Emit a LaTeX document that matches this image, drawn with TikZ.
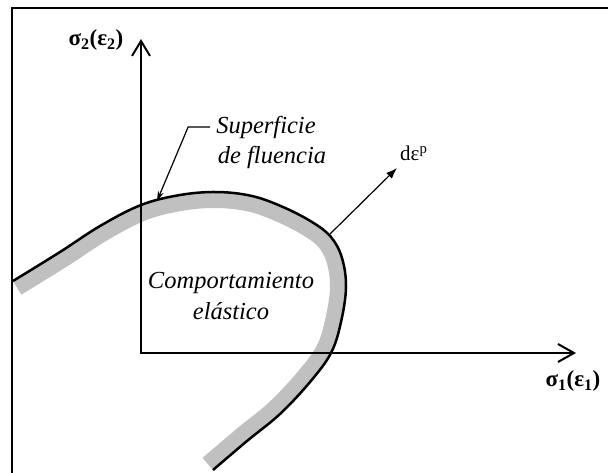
\documentclass[tikz,border=0pt]{standalone}
\usepackage{fontspec}
\setmainfont{Liberation Serif}
\usetikzlibrary{arrows.meta}
\definecolor{bandgray}{RGB}{192,192,192}
\begin{document}
\begin{tikzpicture}[x=1pt,y=-1pt,
  frameline/.style={line width=2.5pt},
  axisline/.style={line width=2pt},
  yieldline/.style={line width=2.5pt},
  band/.style={bandgray,line width=32pt},
  thinarrow/.style={line width=1.2pt},
  itlabel/.style={font=\fontsize{24.5}{28}\selectfont\itshape,inner sep=0pt,align=center},
  axlabel/.style={font=\fontsize{23}{26}\selectfont\bfseries,inner sep=0pt},
  deplabel/.style={font=\fontsize{21}{24}\selectfont,inner sep=0pt}]
\useasboundingbox (0,0) rectangle (608,472);
% frame
\draw[frameline] (12,490) -- (12,8) -- (630,8);
% yield curve path
\def\yieldpath{plot[smooth,tension=0.6] coordinates {(13,281) (60,252) (100,226) (141,205) (180,195) (217,192) (252,196) (283,207) (312,222) (331,237) (342,258) (346,287) (341,322) (331,353) (310,382) (280,414) (247,441) (213,470)}}
\begin{scope}
  \clip \yieldpath -- (187,440) -- (33,315) -- cycle;
  \draw[band] \yieldpath;
\end{scope}
% axes
\coordinate (O) at (141,353);
\coordinate (Ytip) at (141,39);
\coordinate (Xtip) at (576,353);
\draw[axisline,{Straight Barb[length=15pt,width=18pt,line width=2pt]}-{Straight Barb[length=16pt,width=18pt,line width=2pt]}] (Ytip) -- (O) -- (Xtip);
\node[axlabel] (ylab) at (96,40) {σ\textsubscript{2}(ε\textsubscript{2})};
\node[axlabel] (xlab) at (573,381) {σ\textsubscript{1}(ε\textsubscript{1})};
% yield curve
\draw[yieldline] \yieldpath;
% labels
\node[itlabel] (sup) at (266,127) {Superficie};
\node[itlabel] (flu) at (272,157) {de fluencia};
\node[itlabel] (comp) at (231,283) {Comportamiento};
\node[itlabel] (ela) at (231,311) {elástico};
\coordinate (sf) at (157,201);
\draw[thinarrow,-{Stealth[length=10pt,width=6pt]}] ([xshift=-6pt]sup.west) -- ++(-22,0) -- (sf);
\node[deplabel,anchor=south west] (dep) at (400,161) {dε\textsuperscript{p}};
\coordinate (ds) at (330,234);
\coordinate (dt) at (397,168);
\draw[thinarrow,-{Latex[length=11pt,width=8pt]}] (ds) -- (dt);
\end{tikzpicture}
\end{document}
